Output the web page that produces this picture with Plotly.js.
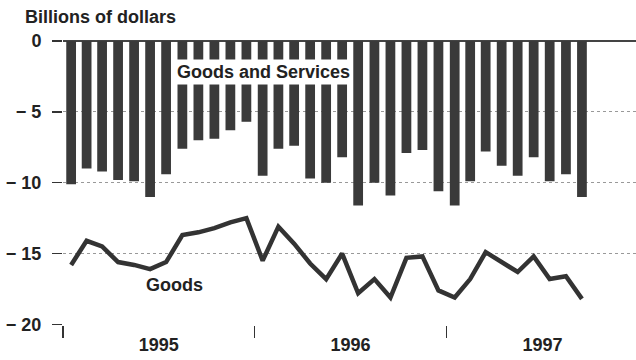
<!DOCTYPE html>
<html>
<head>
<meta charset="utf-8">
<script src="https://cdn.plot.ly/plotly-3.0.1.min.js"></script>
<style>
  html, body { margin: 0; padding: 0; background: #fff; }
  #chart { width: 636px; height: 360px; }
</style>
</head>
<body>
<div id="chart"></div>
<script>
// Monthly data, Jan 1995 - Sep 1997 (billions of dollars)
const months = [
  "1995-01","1995-02","1995-03","1995-04","1995-05","1995-06",
  "1995-07","1995-08","1995-09","1995-10","1995-11","1995-12",
  "1996-01","1996-02","1996-03","1996-04","1996-05","1996-06",
  "1996-07","1996-08","1996-09","1996-10","1996-11","1996-12",
  "1997-01","1997-02","1997-03","1997-04","1997-05","1997-06",
  "1997-07","1997-08","1997-09"
];
const goodsAndServices = [
  -10.1, -9.0, -9.2, -9.8, -9.9, -11.0, -9.4, -7.6, -7.0, -6.9, -6.3, -5.7,
  -9.5, -7.6, -7.4, -9.7, -10.0, -8.2, -11.6, -10.0, -10.9, -7.9, -7.7, -10.6,
  -11.6, -9.9, -7.8, -8.8, -9.5, -8.2, -9.9, -9.4, -11.0
];
const goods = [
  -15.8, -14.1, -14.5, -15.6, -15.8, -16.1, -15.6, -13.7, -13.5, -13.2, -12.8, -12.5,
  -15.5, -13.1, -14.3, -15.7, -16.8, -15.0, -17.8, -16.8, -18.1, -15.3, -15.2, -17.6,
  -18.1, -16.8, -14.9, -15.6, -16.3, -15.2, -16.8, -16.6, -18.2
];
const yTickVals = [0, -5, -10, -15, -20];
const yTickText = ["0", "\u2212 5", "\u2212 10", "\u2212 15", "\u2212 20"];

const FONT = "'Liberation Sans', Arial, Helvetica, sans-serif";

const traces = [
  {
    type: "bar",
    x: months,
    y: goodsAndServices,
    xperiod: "M1",
    xperiodalignment: "middle",
    marker: { color: "#3a3a3a", line: { width: 0 } },
    hoverinfo: "skip",
    showlegend: false
  },
  {
    type: "scatter",
    mode: "lines",
    x: months,
    y: goods,
    xperiod: "M1",
    xperiodalignment: "middle",
    line: { color: "#333333", width: 4.5 },
    hoverinfo: "skip",
    showlegend: false
  }
];

const layout = {
  width: 636,
  height: 360,
  margin: { l: 63, r: 0, t: 41, b: 35 },
  paper_bgcolor: "#ffffff",
  plot_bgcolor: "#ffffff",
  font: { family: FONT, size: 18, color: "#222222", weight: "bold" },
  bargap: 0.37,
  title: {
    text: "Billions of dollars",
    font: { family: FONT, size: 18, color: "#222222", weight: "bold" },
    xref: "container", yref: "container",
    x: 25 / 636, xanchor: "left",
    y: 1 - 17 / 360, yanchor: "middle"
  },
  xaxis: {
    type: "date",
    range: ["1995-01-01", "1997-12-28"],
    tick0: "1995-01-01",
    dtick: "M12",
    tickformat: "%Y",
    ticklabelmode: "period",
    ticks: "outside",
    ticklen: 12,
    tickwidth: 1.5,
    tickcolor: "#333",
    ticklabelstandoff: -9,
    showgrid: false,
    zeroline: false,
    showline: false,
    fixedrange: true
  },
  yaxis: {
    range: [-20.04, 0],
    tickmode: "array",
    tickvals: yTickVals,
    ticktext: yTickText,
    ticks: "outside",
    ticklen: 10,
    tickwidth: 1.5,
    tickcolor: "#333",
    ticklabelstandoff: 7,
    showgrid: true,
    gridcolor: "#999",
    griddash: "dot",
    gridwidth: 1,
    zeroline: true,
    zerolinecolor: "#444",
    zerolinewidth: 1.5,
    showline: false,
    fixedrange: true
  },
  annotations: [
    {
      text: "Goods and Services",
      xref: "x", yref: "y",
      x: "1996-01-19", y: -2.2,
      showarrow: false,
      bgcolor: "#ffffff",
      borderpad: 2,
      font: { family: FONT, size: 18, color: "#222222", weight: "bold" }
    },
    {
      text: "Goods",
      xref: "x", yref: "y",
      x: "1995-08-01", y: -17.2,
      showarrow: false,
      font: { family: FONT, size: 18, color: "#222222", weight: "bold" }
    }
  ]
};

Plotly.newPlot("chart", traces, layout, { displayModeBar: false, staticPlot: true });
</script>
</body>
</html>
